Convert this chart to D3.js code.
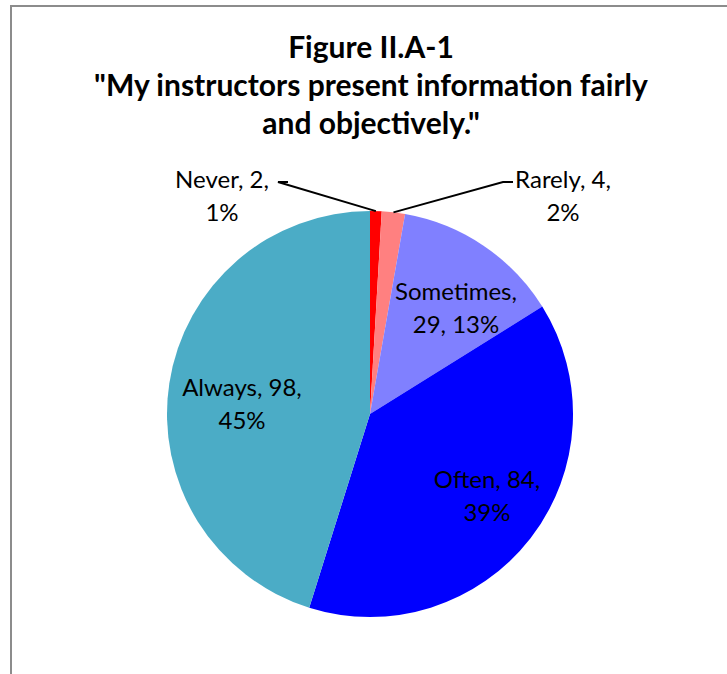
<!DOCTYPE html>
<html>
<head>
<meta charset="utf-8">
<script src="https://cdn.jsdelivr.net/npm/d3@7"></script>
<style>
  html, body { margin: 0; padding: 0; background: #fff; }
  svg { display: block; }
</style>
</head>
<body>
<svg id="chart" width="727" height="674"></svg>
<script>
// ---- data ----
const categories = ["Never", "Rarely", "Sometimes", "Often", "Always"];
const counts = [2, 4, 29, 84, 98];
const percentLabels = ["1%", "2%", "13%", "39%", "45%"];
const colors = ["#ff0000", "#ff8080", "#8080ff", "#0000ff", "#4bacc6"];
const titleLines = ["Figure II.A-1", "\"My instructors present information fairly", "and objectively.\""];

// ---- layout ----
const W = 727, H = 674;
const cx = 370, cy = 414, R = 203;
const font = "Lato, 'Open Sans', sans-serif";
const labelLayout = {
  "Never":     { outside: true, x: -148, y: -226, lineEnd: -82, lineElbow: -92 },
  "Rarely":    { outside: true, x: 193, y: -226, lineEnd: 143, lineElbow: 133 },
  "Sometimes": { x: 86, y: -114 },
  "Often":     { x: 117, y: 74 },
  "Always":    { x: -128, y: -18 }
};

const svg = d3.select("#chart");

// frame
svg.append("rect")
  .attr("x", 11).attr("y", 6).attr("width", 900).attr("height", 900)
  .attr("fill", "none").attr("stroke", "#8c8c8c").attr("stroke-width", 2);

// title
const title = svg.append("text")
  .attr("text-anchor", "middle")
  .attr("font-family", font)
  .attr("font-weight", "bold")
  .attr("font-size", 30)
  .attr("fill", "#000");
titleLines.forEach((t, i) => {
  title.append("tspan").attr("x", 371).attr("y", 58 + i * 38).text(t);
});

const pie = d3.pie().sort(null).value(d => d)(counts);
const arc = d3.arc().innerRadius(0).outerRadius(R);

const g = svg.append("g").attr("transform", `translate(${cx},${cy})`);

g.selectAll("path.slice")
  .data(pie)
  .join("path")
  .attr("class", "slice")
  .attr("d", arc)
  .attr("fill", (d, i) => colors[i]);

// labels
const lineH = 33;
pie.forEach((d, i) => {
  const name = categories[i];
  const L = labelLayout[name];
  const mid = (d.startAngle + d.endAngle) / 2;
  const t = g.append("text")
    .attr("font-family", font).attr("font-size", 24).attr("fill", "#000")
    .attr("text-anchor", "middle");
  let l1, l2;
  if (name === "Sometimes") { l1 = `${name},`; l2 = `${counts[i]}, ${percentLabels[i]}`; }
  else { l1 = `${name}, ${counts[i]},`; l2 = percentLabels[i]; }
  if (L.outside) {
    const px = Math.sin(mid) * R, py = -Math.cos(mid) * R;
    const ly = L.y - 6;
    g.insert("polyline", "text")
      .attr("points", `${px},${py} ${L.lineElbow},${ly} ${L.lineEnd},${ly}`)
      .attr("fill", "none").attr("stroke", "#000").attr("stroke-width", 2);
  }
  t.append("tspan").attr("x", L.x).attr("y", L.y).text(l1);
  t.append("tspan").attr("x", L.x).attr("y", L.y + lineH).text(l2);
});
</script>
</body>
</html>
